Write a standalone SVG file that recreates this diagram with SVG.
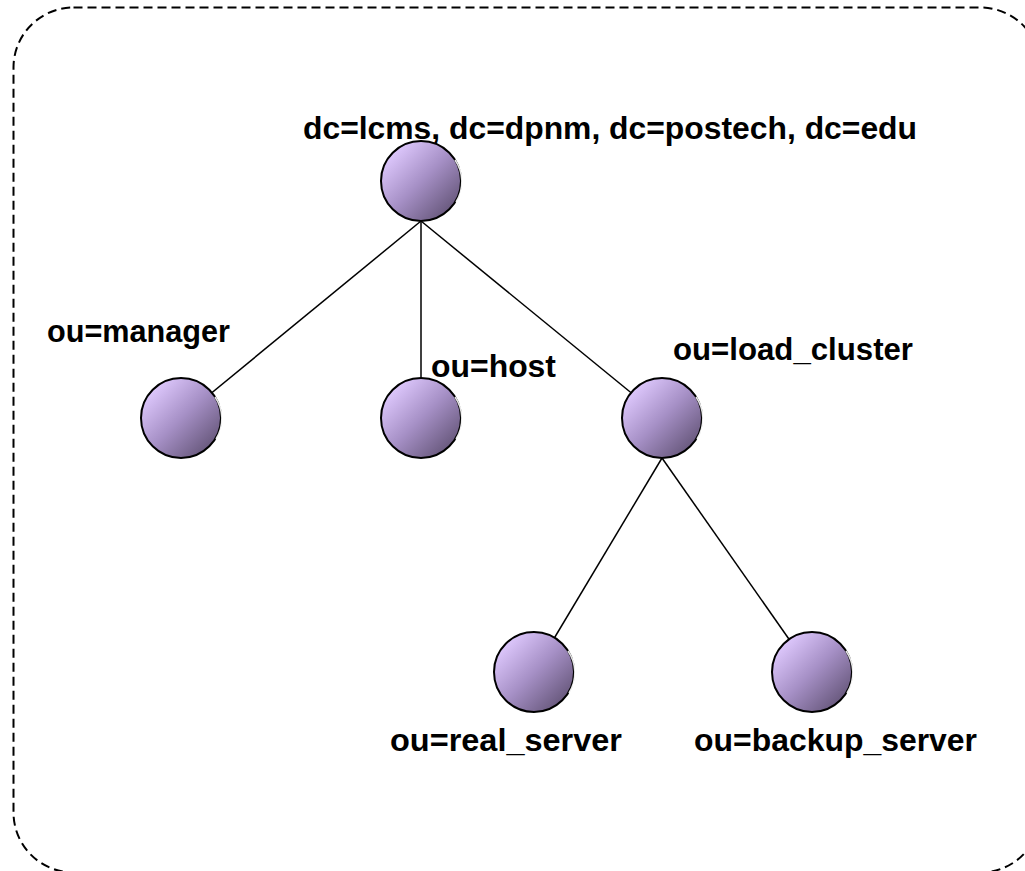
<svg xmlns="http://www.w3.org/2000/svg" width="1025" height="871" viewBox="0 0 1025 871">
  <style>
    .frame { fill: none; stroke: #000; stroke-width: 2; stroke-dasharray: 9 5; }
    .edge { stroke: #000; stroke-width: 1.5; fill: none; }
    .ball { fill: url(#ballFill); stroke: #000; stroke-width: 2; }
    .shine { fill: none; stroke: #fff; stroke-width: 1.5; opacity: 0.9; }
    .label { font-family: "Liberation Sans", Arial, sans-serif; font-weight: bold; font-size: 32px; fill: #000; }
  </style>
  <defs>
    <linearGradient id="ballFill" x1="0.15" y1="0.15" x2="0.85" y2="0.85">
      <stop offset="0" stop-color="#dcc6fb"/>
      <stop offset="0.5" stop-color="#a690c6"/>
      <stop offset="1" stop-color="#6b5b80"/>
    </linearGradient>
  </defs>

  <!-- dashed outer frame, right and bottom edges run past the canvas -->
  <rect class="frame" x="13.5" y="7.5" width="1027" height="865" rx="60" ry="60"/>

  <g id="connectors">
    <line class="edge" x1="421" y1="221" x2="181" y2="418"/>
    <line class="edge" x1="421" y1="221" x2="421" y2="418"/>
    <line class="edge" x1="421" y1="221" x2="662" y2="418"/>
    <line class="edge" x1="662" y1="458" x2="534" y2="672"/>
    <line class="edge" x1="662" y1="458" x2="812" y2="672"/>
  </g>

  <g id="root">
    <circle class="ball" cx="421" cy="181" r="40"/>
    <path class="shine" d="M 455 160 A 38 38 0 0 1 456 202"/>
    <text class="label" x="303" y="139" textLength="614" lengthAdjust="spacingAndGlyphs">dc=lcms, dc=dpnm, dc=postech, dc=edu</text>
  </g>

  <g id="manager">
    <circle class="ball" cx="181" cy="418" r="40"/>
    <path class="shine" d="M 215 397 A 38 38 0 0 1 216 439"/>
    <text class="label" x="47" y="342" textLength="183" lengthAdjust="spacingAndGlyphs">ou=manager</text>
  </g>

  <g id="host">
    <circle class="ball" cx="421" cy="418" r="40"/>
    <path class="shine" d="M 455 397 A 38 38 0 0 1 456 439"/>
    <text class="label" x="431" y="377" textLength="125" lengthAdjust="spacingAndGlyphs">ou=host</text>
  </g>

  <g id="load_cluster">
    <circle class="ball" cx="662" cy="418" r="40"/>
    <path class="shine" d="M 696 397 A 38 38 0 0 1 697 439"/>
    <text class="label" x="673" y="360" textLength="240" lengthAdjust="spacingAndGlyphs">ou=load_cluster</text>
  </g>

  <g id="real_server">
    <circle class="ball" cx="534" cy="672" r="40"/>
    <path class="shine" d="M 568 651 A 38 38 0 0 1 569 693"/>
    <text class="label" x="390" y="751" textLength="232" lengthAdjust="spacingAndGlyphs">ou=real_server</text>
  </g>

  <g id="backup_server">
    <circle class="ball" cx="812" cy="672" r="40"/>
    <path class="shine" d="M 846 651 A 38 38 0 0 1 847 693"/>
    <text class="label" x="694" y="751" textLength="283" lengthAdjust="spacingAndGlyphs">ou=backup_server</text>
  </g>
</svg>
